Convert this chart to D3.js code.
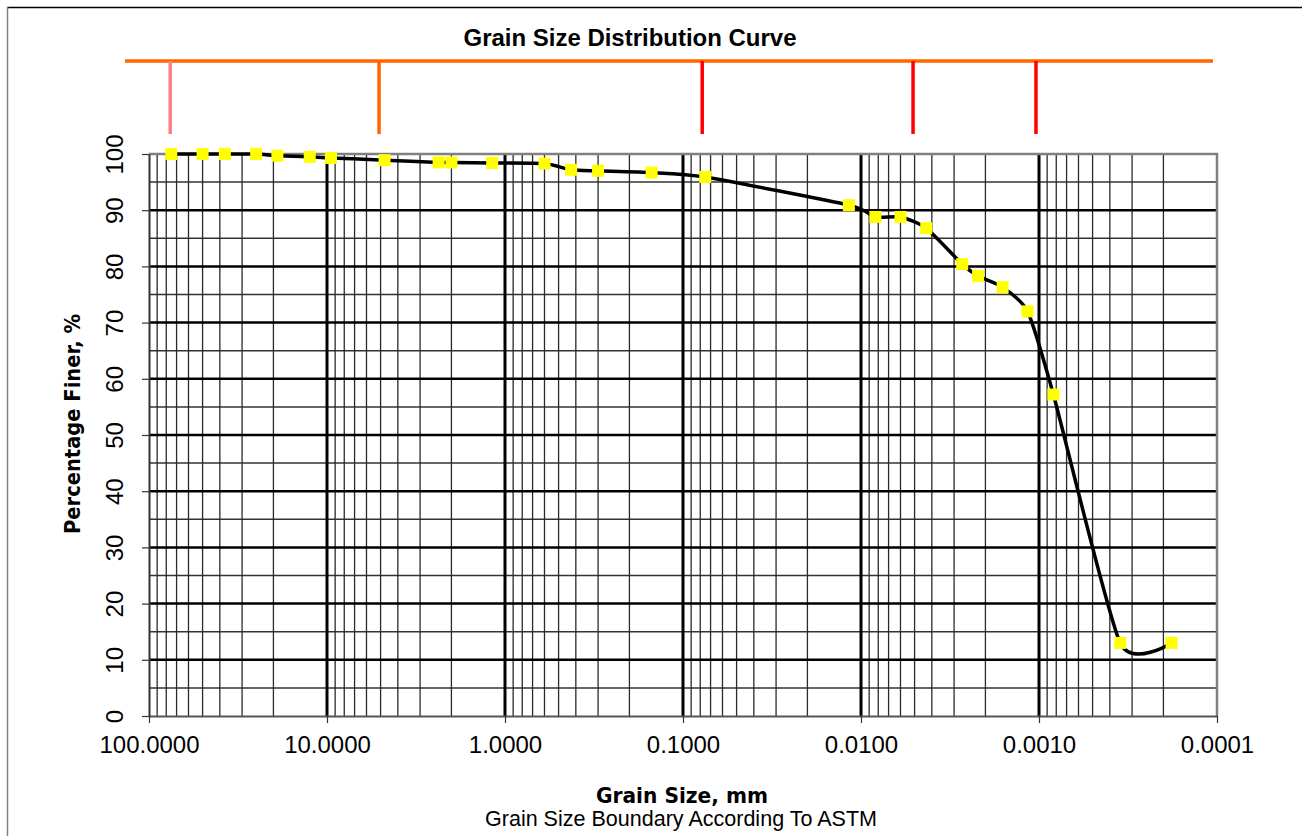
<!DOCTYPE html>
<html>
<head>
<meta charset="utf-8">
<script src="https://cdn.jsdelivr.net/npm/d3@7"></script>
<style>
  body { margin: 0; background: #fff; }
  svg { display: block; }
  text { font-family: "Liberation Sans", Arial, sans-serif; fill: #000; }
</style>
</head>
<body>
<svg id="chart" width="1302" height="836"></svg>
<script>
// grain size (mm) and percent finer
const grainSize = [75, 50, 37.5, 25, 19, 12.5, 9.5, 4.75, 2.36, 2.0, 1.18, 0.6,
    0.425, 0.3, 0.15, 0.075, 0.0117, 0.0083, 0.006, 0.0043, 0.0027, 0.0022,
    0.0016, 0.00116, 0.00083, 0.00035, 0.00018];
const percentFiner = [100, 100, 100, 100, 99.7, 99.5, 99.3, 98.9, 98.5, 98.5, 98.4, 98.3,
    97.2, 97.0, 96.7, 95.9, 90.9, 88.8, 88.8, 86.8, 80.4, 78.3,
    76.3, 72.0, 57.2, 13.0, 13.0];

// ASTM boundary markers drawn above the plot
const boundarySize = [76, 5.1, 0.078, 0.0051, 0.00104];
const boundaryColor = ["#ff8080", "#ff6600", "#ff0000", "#ff0000", "#ff0000"];

const xDecades = [100, 10, 1, 0.1, 0.01, 0.001, 0.0001];
const yTicks = [0, 10, 20, 30, 40, 50, 60, 70, 80, 90, 100];
const yMinor = [5, 15, 25, 35, 45, 55, 65, 75, 85, 95];

const plot = { left: 149, right: 1217, top: 154, bottom: 716 };

const svg = d3.select("#chart");

const x = d3.scaleLog().domain([100, 0.0001]).range([plot.left, plot.right]);
const y = d3.scaleLinear().domain([0, 100]).range([plot.bottom, plot.top]);

// outer chart frame (only top and left are in view)
svg.append("line").attr("x1", 7).attr("x2", 1302).attr("y1", 7.5).attr("y2", 7.5)
    .attr("stroke", "#000").attr("stroke-width", 1.5);
svg.append("line").attr("x1", 7.5).attr("x2", 7.5).attr("y1", 7).attr("y2", 836)
    .attr("stroke", "#808080").attr("stroke-width", 1.5);

// title
svg.append("text")
    .attr("x", 630).attr("y", 46)
    .attr("text-anchor", "middle")
    .attr("textLength", 333).attr("lengthAdjust", "spacingAndGlyphs")
    .style("font-size", "24px").style("font-weight", "bold")
    .text("Grain Size Distribution Curve");

// boundary bar
svg.append("line")
    .attr("x1", 125).attr("x2", 1213).attr("y1", 61).attr("y2", 61)
    .attr("stroke", "#ff6600").attr("stroke-width", 3.5);

svg.append("g").selectAll("line")
    .data(boundarySize)
    .join("line")
    .attr("x1", d => x(d)).attr("x2", d => x(d))
    .attr("y1", 61).attr("y2", 134)
    .attr("stroke", (d, i) => boundaryColor[i])
    .attr("stroke-width", 3.5);

// grid
const grid = svg.append("g");

const minorX = [];
xDecades.slice(1).forEach(d => {
    for (let k = 2; k <= 9; k++) minorX.push(k * d);
});

grid.selectAll(".hminor")
    .data(yMinor)
    .join("line")
    .attr("x1", plot.left).attr("x2", plot.right)
    .attr("y1", d => y(d)).attr("y2", d => y(d))
    .attr("stroke", "#333").attr("stroke-width", 1.5);

grid.selectAll(".vminor")
    .data(minorX)
    .join("line")
    .attr("x1", d => x(d)).attr("x2", d => x(d))
    .attr("y1", plot.top).attr("y2", plot.bottom)
    .attr("stroke", "#2a2a2a").attr("stroke-width", 1.3);

grid.selectAll(".hmajor")
    .data(yTicks.slice(1, -1))
    .join("line")
    .attr("x1", plot.left).attr("x2", plot.right)
    .attr("y1", d => y(d)).attr("y2", d => y(d))
    .attr("stroke", "#000").attr("stroke-width", 2.5);

grid.selectAll(".vmajor")
    .data(xDecades.slice(1, -1))
    .join("line")
    .attr("x1", d => x(d)).attr("x2", d => x(d))
    .attr("y1", plot.top).attr("y2", plot.bottom)
    .attr("stroke", "#000").attr("stroke-width", 3);

// plot frame: grey top and right
svg.append("path")
    .attr("d", `M${plot.left},${plot.top}H${plot.right}V${plot.bottom}`)
    .attr("fill", "none").attr("stroke", "#808080").attr("stroke-width", 2.5);

// axes
const xAxis = svg.append("g")
    .attr("transform", `translate(0,${plot.bottom})`)
    .call(d3.axisBottom(x).tickValues(xDecades).tickFormat(d3.format(".4f")).tickSize(7).tickSizeOuter(0));
xAxis.select(".domain").attr("stroke", "#555").attr("stroke-width", 2);
xAxis.selectAll(".tick line").attr("stroke", "#333").attr("stroke-width", 1.2);
xAxis.selectAll(".tick text")
    .attr("dy", null).attr("y", 37)
    .style("font-size", "24px").style("font-family", "'Liberation Sans', Arial, sans-serif")
    .attr("fill", "#000");

const yAxis = svg.append("g")
    .attr("transform", `translate(${plot.left},0)`)
    .call(d3.axisLeft(y).tickValues(yTicks).tickSize(7).tickSizeOuter(0).tickFormat(d3.format("d")));
yAxis.select(".domain").attr("stroke", "#333").attr("stroke-width", 2);
yAxis.selectAll(".tick line").attr("stroke", "#333").attr("stroke-width", 1.2);
yAxis.selectAll(".tick text")
    .attr("x", null).attr("dy", null)
    .attr("text-anchor", "middle")
    .attr("transform", "translate(-26,0) rotate(-90)")
    .style("font-size", "24px").style("font-family", "'Liberation Sans', Arial, sans-serif")
    .attr("fill", "#000");

// curve
const line = d3.line()
    .x((d, i) => x(grainSize[i]))
    .y(d => y(d))
    .curve(d3.curveCardinal.tension(0.4));

svg.append("path")
    .datum(percentFiner)
    .attr("d", line)
    .attr("fill", "none")
    .attr("stroke", "#000")
    .attr("stroke-width", 3.5);

// markers
const ms = 12;
svg.append("g").selectAll("rect")
    .data(percentFiner)
    .join("rect")
    .attr("x", (d, i) => x(grainSize[i]) - ms / 2)
    .attr("y", d => y(d) - ms / 2)
    .attr("width", ms).attr("height", ms)
    .attr("fill", "#ffff00");

// axis titles
svg.append("text")
    .attr("transform", "translate(80,424) rotate(-90)")
    .attr("text-anchor", "middle")
    .attr("textLength", 220).attr("lengthAdjust", "spacingAndGlyphs")
    .style("font-family", "'DejaVu Sans', sans-serif")
    .style("font-size", "22px").style("font-weight", "bold")
    .text("Percentage Finer, %");

svg.append("text")
    .attr("x", 682).attr("y", 803)
    .attr("text-anchor", "middle")
    .attr("textLength", 172).attr("lengthAdjust", "spacingAndGlyphs")
    .style("font-family", "'DejaVu Sans', sans-serif")
    .style("font-size", "22px").style("font-weight", "bold")
    .text("Grain Size, mm");

svg.append("text")
    .attr("x", 681).attr("y", 826)
    .attr("text-anchor", "middle")
    .attr("textLength", 392).attr("lengthAdjust", "spacingAndGlyphs")
    .style("font-size", "21.5px")
    .text("Grain Size Boundary According To ASTM");
</script>
</body>
</html>
